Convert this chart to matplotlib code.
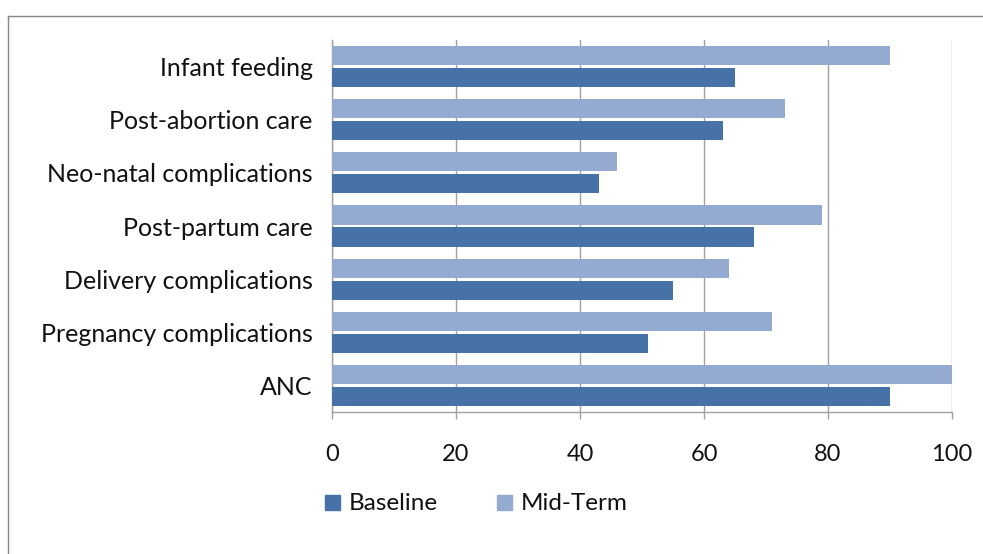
import matplotlib.pyplot as plt
import numpy as np
from matplotlib.lines import Line2D

categories = ['ANC', 'Pregnancy complications', 'Delivery complications',
              'Post-partum care', 'Neo-natal complications',
              'Post-abortion care', 'Infant feeding']
baseline = [90, 51, 55, 68, 43, 63, 65]
mid_term = [100, 71, 64, 79, 46, 73, 90]
series_names = ['Baseline', 'Mid-Term']

c_base = '#4672A8'
c_mid = '#95AAD0'
c_grid = '#A0A0A0'

plt.rcParams['font.family'] = ['Lato', 'DejaVu Sans']

fig = plt.figure(figsize=(9.83, 5.54), dpi=100)
ax = fig.add_axes([0.3377, 0.2563, 0.6308, 0.6715])

y = np.arange(len(categories))
h = 0.358
ax.barh(y - 0.207, baseline, height=h, color=c_base, label=series_names[0], zorder=3)
ax.barh(y + 0.207, mid_term, height=h, color=c_mid, label=series_names[1], zorder=3)

ax.set_xlim(0, 100)
ax.set_ylim(-0.5, len(categories) - 0.5)
ax.set_xticks(np.arange(0, 101, 20))
ax.set_yticks(y)
ax.set_yticklabels(categories)
ax.tick_params(axis='y', length=0, pad=14, labelsize=18, labelcolor='#111111')
ax.tick_params(axis='x', length=5, width=1, color=c_grid, pad=18,
               labelsize=17, labelcolor='#111111')
ax.grid(axis='x', color=c_grid, linewidth=1, zorder=0)

for s in ['top', 'right']:
    ax.spines[s].set_visible(False)
for s in ['left', 'bottom']:
    ax.spines[s].set_color(c_grid)
    ax.spines[s].set_linewidth(1)

# legend along the bottom
handles = [Line2D([], [], marker='s', linestyle='none', markersize=10.8,
                  color=c) for c in (c_base, c_mid)]
fig.legend(handles, series_names, loc='center left', ncol=2,
           bbox_to_anchor=(0.307, 0.091), frameon=False, fontsize=17.5,
           handletextpad=0.34, columnspacing=2.35, handlelength=0.7,
           labelcolor='#111111')

# outer chart frame
fig.add_artist(Line2D([0.0085, 0.0085], [0.0, 0.971], color='#888888', lw=1))
fig.add_artist(Line2D([0.0085, 1.0], [0.971, 0.971], color='#888888', lw=1))

fig.savefig('out.png', dpi=100)
